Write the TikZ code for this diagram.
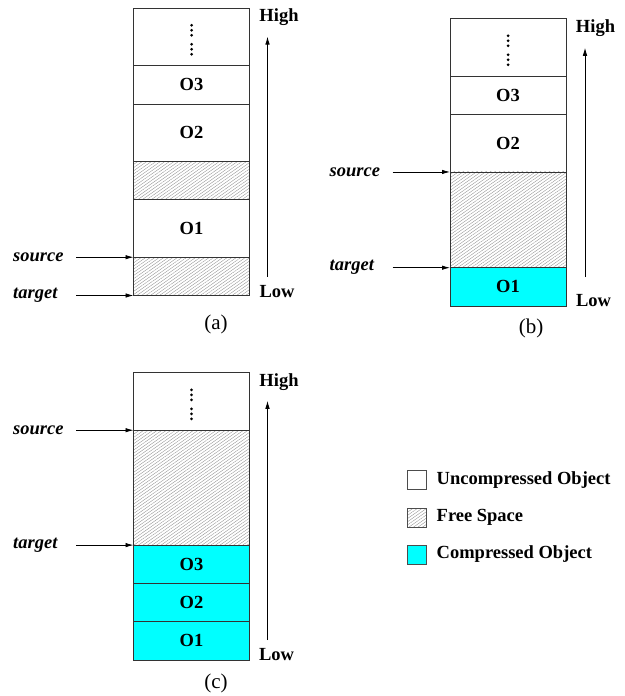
\documentclass[tikz,border=0pt]{standalone}
\usepackage{fontspec}
\setmainfont{Liberation Serif}
\usetikzlibrary{positioning,calc,patterns.meta,arrows.meta}

\definecolor{objcyan}{RGB}{0,255,255}

\tikzset{
  slot/.style={draw=black!80, line width=0.9pt, minimum width=116pt,
    minimum height=38.3pt, outer sep=0pt, inner sep=0pt,
    font=\fontsize{18.5}{20}\selectfont\bfseries},
  tall/.style={slot, minimum height=57.45pt},
  freesp/.style={pattern={Lines[angle=35,distance=2.6pt,line width=0.35pt]},
    pattern color=black!45},
  packed/.style={fill=objcyan},
  keybox/.style={draw=black!70, line width=0.8pt, minimum size=19pt,
    outer sep=0pt, inner sep=0pt},
  ptrtag/.style={anchor=west, inner sep=0pt,
    font=\fontsize{18.5}{20}\selectfont\bfseries\itshape},
  levellbl/.style={inner sep=0pt, font=\fontsize{18.5}{20}\selectfont\bfseries},
  subcap/.style={inner sep=0pt, font=\fontsize{21}{24}\selectfont},
  ptr/.style={-{Latex[length=8pt,width=4.5pt]}, line width=0.8pt},
}

\begin{document}
\begin{tikzpicture}[x=1pt,y=-1pt]
  \useasboundingbox (0,0) rectangle (624,696);

  % (a) heap before compaction
  \node[slot, freesp, anchor=south] (fa1) at (191.5,295.5) {};
  \node[tall, above=0pt of fa1] (o1a) {O1};
  \node[slot, freesp, above=0pt of o1a] (fa2) {};
  \node[tall, above=0pt of fa2] (o2a) {O2};
  \node[slot, above=0pt of o2a] (o3a) {O3};
  \node[tall, above=0pt of o3a] (topa) {};
  \path (o1a.south west) ++(-57.5,0) coordinate (sa);
  \path (fa1.south west) ++(-57.5,0) coordinate (ta);
  \path (sa) ++(-63,0) node[ptrtag] (srca) {source};
  \path (ta) ++(-63,0) node[ptrtag] (tgta) {target};
  \draw[ptr] (sa) -- (o1a.south west);
  \draw[ptr] (ta) -- (fa1.south west);
  \coordinate (loa) at ($(fa1.south east)+(18,-19)$);
  \coordinate (hia) at ($(topa.north east)+(18,28.3)$);
  \draw[ptr] (loa) -- (hia);
  \node[levellbl] (higha) at ($(topa.north east)+(29.5,8.8)$) {High};
  \node[levellbl] (lowa) at ($(fa1.south east)+(27.5,-3.8)$) {Low};
  \node[subcap] (capa) at (216,324) {(a)};

  % (b) O1 moved down
  \node[slot, packed, anchor=south] (o1b) at (508,306) {O1};
  \node[slot, freesp, minimum height=95.75pt, above=0pt of o1b] (fb) {};
  \node[tall, above=0pt of fb] (o2b) {O2};
  \node[slot, above=0pt of o2b] (o3b) {O3};
  \node[tall, above=0pt of o3b] (topb) {};
  \path (fb.north west) ++(-57.5,0) coordinate (sb);
  \path (o1b.north west) ++(-57.5,0) coordinate (tb);
  \path (sb) ++(-63,0) node[ptrtag] (srcb) {source};
  \path (tb) ++(-63,0) node[ptrtag] (tgtb) {target};
  \draw[ptr] (sb) -- (fb.north west);
  \draw[ptr] (tb) -- (o1b.north west);
  \coordinate (lob) at ($(o1b.south east)+(19,-29)$);
  \coordinate (hib) at ($(topb.north east)+(19,29)$);
  \draw[ptr] (lob) -- (hib);
  \node[levellbl] (highb) at ($(topb.north east)+(29.5,9.3)$) {High};
  \node[levellbl] (lowb) at ($(o1b.south east)+(27.5,-5)$) {Low};
  \node[subcap] (capb) at (531,328) {(b)};

  % (c) all three objects packed
  \node[slot, packed, anchor=south] (o1c) at (191.5,660) {O1};
  \node[slot, packed, above=0pt of o1c] (o2c) {O2};
  \node[slot, packed, above=0pt of o2c] (o3c) {O3};
  \node[slot, freesp, minimum height=114.9pt, above=0pt of o3c] (fc) {};
  \node[tall, above=0pt of fc] (topc) {};
  \path (fc.north west) ++(-57.5,0) coordinate (sc);
  \path (o3c.north west) ++(-57.5,0) coordinate (tc);
  \path (sc) ++(-63,0) node[ptrtag] (srcc) {source};
  \path (tc) ++(-63,0) node[ptrtag] (tgtc) {target};
  \draw[ptr] (sc) -- (fc.north west);
  \draw[ptr] (tc) -- (o3c.north west);
  \coordinate (loc) at ($(o1c.south east)+(18,-20)$);
  \coordinate (hic) at ($(topc.north east)+(18,28)$);
  \draw[ptr] (loc) -- (hic);
  \node[levellbl] (highc) at ($(topc.north east)+(29.5,9)$) {High};
  \node[levellbl] (lowc) at ($(o1c.south east)+(27,-5)$) {Low};
  \node[subcap] (capc) at (216,683) {(c)};

  % vertical dots in the top slots
  \foreach \t in {topa,topb,topc}
    \foreach \d in {17,22,27,36,41,46}
      \fill ($(\t.north)+(0,\d)$) circle (1.5pt);

  % legend
  \node[keybox] (keyu) at (416.5,480) {};
  \node[keybox, freesp, below=18.5pt of keyu] (keyf) {};
  \node[keybox, packed, below=18pt of keyf] (keyc) {};
  \node[levellbl, right=10.5pt of keyu] (txtu) {Uncompressed Object};
  \node[levellbl, right=10.5pt of keyf] (txtf) {Free Space};
  \node[levellbl, right=10.5pt of keyc] (txtc) {Compressed Object};
\end{tikzpicture}
\end{document}
